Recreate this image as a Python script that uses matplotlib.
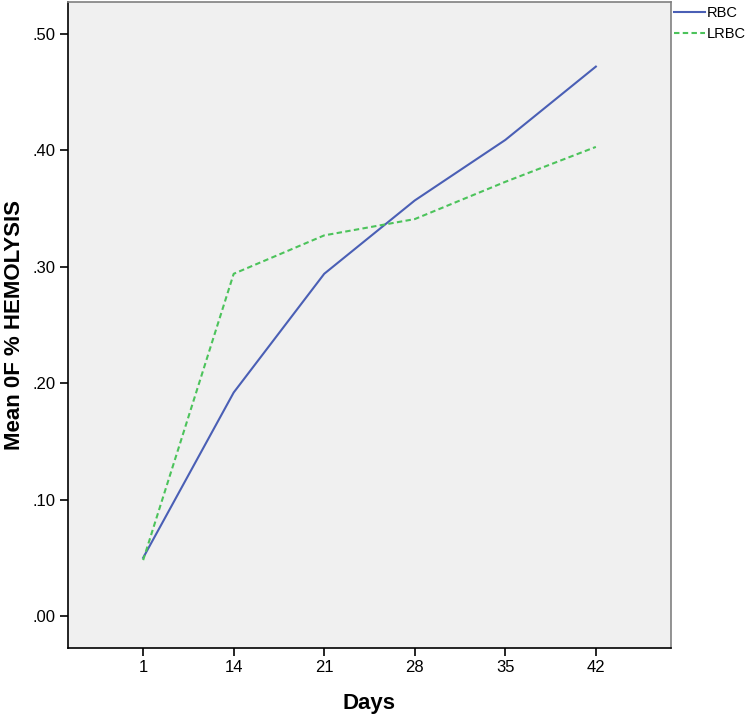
import matplotlib.pyplot as plt
import numpy as np

plt.rcParams['font.family'] = ['Liberation Sans', 'DejaVu Sans']

days = ['1', '14', '21', '28', '35', '42']
rbc = [0.050, 0.192, 0.294, 0.357, 0.409, 0.472]
lrbc = [0.048, 0.294, 0.327, 0.341, 0.373, 0.403]

fig = plt.figure(figsize=(7.46, 7.16), dpi=100)
ax = fig.add_axes([68 / 746, 1 - 648 / 716, (671 - 68) / 746, (648 - 2) / 716])
ax.set_facecolor('#f0f0f0')

x = np.arange(len(days))
ax.plot(x, rbc, color='#4a5fb5', lw=1.5, label='RBC')
ax.plot(x, lrbc, color='#4cc35b', lw=1.5, ls=(0, (2.6, 1.6)), label='LRBC')

ax.set_xlim(-0.83, 5.83)
ax.set_ylim(-0.0275, 0.5275)
ax.set_xticks(x)
ax.set_xticklabels(days)
yt = [0, 0.1, 0.2, 0.3, 0.4, 0.5]
ax.set_yticks(yt)
ax.set_yticklabels(['.00', '.10', '.20', '.30', '.40', '.50'])
ax.tick_params(direction='out', length=6, width=1.2, labelsize=12, colors='black', pad=3)

for s in ['left', 'bottom']:
    ax.spines[s].set_color('black')
    ax.spines[s].set_linewidth(1.2)
for s in ['top', 'right']:
    ax.spines[s].set_color('#808080')
    ax.spines[s].set_linewidth(1.2)

ax.set_xlabel('Days', fontsize=16, fontweight='bold')
ax.xaxis.set_label_coords(0.5, -0.07)
ax.set_ylabel('Mean 0F % HEMOLYSIS', fontsize=16, fontweight='bold')
ax.yaxis.set_label_coords(-0.072, 0.5)

ax.legend(loc='upper left', bbox_to_anchor=(1.003, 0.996), frameon=False, fontsize=10.5,
          handlelength=2.1, handletextpad=0.15, borderaxespad=0.0, labelspacing=0.45,
          borderpad=0.1)

fig.savefig('out.png', dpi=100, facecolor='white')
